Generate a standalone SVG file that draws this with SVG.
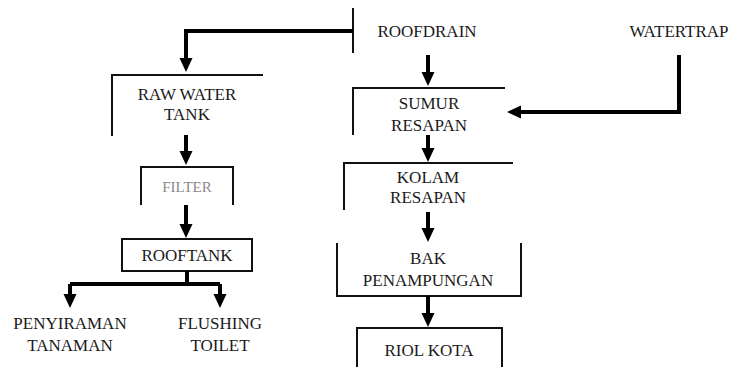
<svg xmlns="http://www.w3.org/2000/svg" width="747" height="367" viewBox="0 0 747 367">
<style>
.t{font-family:"Liberation Serif","Times New Roman",serif;font-size:17px;fill:#1a1a1a;text-anchor:middle}
.g{fill:#8a8a8a;font-size:15px}
.b{fill:none;stroke:#111;stroke-width:2}
.c{fill:none;stroke:#000;stroke-width:4;stroke-linejoin:miter}
</style>
<defs>
<marker id="ah" markerUnits="userSpaceOnUse" viewBox="0 0 14 14" refX="0" refY="7" markerWidth="14" markerHeight="14" orient="auto">
<path d="M0,0.5 L14,7 L0,13.5 Z" fill="#000"/>
</marker>
</defs>
<rect width="747" height="367" fill="#fff"/>
<g id="roofdrain">
<line class="b" x1="353" y1="8" x2="353" y2="53"/>
<text class="t" x="427" y="37">ROOFDRAIN</text>
</g>
<g id="watertrap">
<text class="t" x="679" y="37">WATERTRAP</text>
</g>
<g id="rawwatertank">
<path class="b" d="M112,136 V75 H263"/>
<text class="t" x="187" y="100">RAW WATER</text>
<text class="t" x="187" y="120">TANK</text>
</g>
<g id="filter">
<path class="b" d="M141,205 V167 H233 V205"/>
<text class="t g" x="187" y="192">FILTER</text>
</g>
<g id="rooftank">
<rect class="b" x="122" y="239" width="130" height="32"/>
<text class="t" x="187" y="261">ROOFTANK</text>
</g>
<g id="penyiraman">
<text class="t" x="70" y="329">PENYIRAMAN</text>
<text class="t" x="70" y="351">TANAMAN</text>
</g>
<g id="flushing">
<text class="t" x="220" y="329">FLUSHING</text>
<text class="t" x="220" y="351">TOILET</text>
</g>
<g id="sumur">
<path class="b" d="M353,135 V88 H505"/>
<text class="t" x="429" y="109">SUMUR</text>
<text class="t" x="429" y="131">RESAPAN</text>
</g>
<g id="kolam">
<path class="b" d="M344,210 V163 H513"/>
<text class="t" x="428" y="183">KOLAM</text>
<text class="t" x="428" y="203">RESAPAN</text>
</g>
<g id="bak">
<path class="b" d="M337,243 V296 H521 V243"/>
<text class="t" x="428" y="264">BAK</text>
<text class="t" x="428" y="286">PENAMPUNGAN</text>
</g>
<g id="riol">
<rect class="b" x="357" y="328" width="145" height="50"/>
<text class="t" x="429" y="356">RIOL KOTA</text>
</g>
<g id="connectors">
<path class="c" d="M353,31 H186 V58" marker-end="url(#ah)"/>
<path class="c" d="M186,135 V151" marker-end="url(#ah)"/>
<path class="c" d="M186,205 V224" marker-end="url(#ah)"/>
<path class="c" d="M187,271 V284"/>
<path class="c" d="M70,284 H220"/>
<path class="c" d="M70,284 V294" marker-end="url(#ah)"/>
<path class="c" d="M220,284 V294" marker-end="url(#ah)"/>
<path class="c" d="M428,55 V72" marker-end="url(#ah)"/>
<path class="c" d="M679,55 V112 H521" marker-end="url(#ah)"/>
<path class="c" d="M428,135 V148" marker-end="url(#ah)"/>
<path class="c" d="M428,212 V228" marker-end="url(#ah)"/>
<path class="c" d="M428,296 V313" marker-end="url(#ah)"/>
</g>
</svg>
